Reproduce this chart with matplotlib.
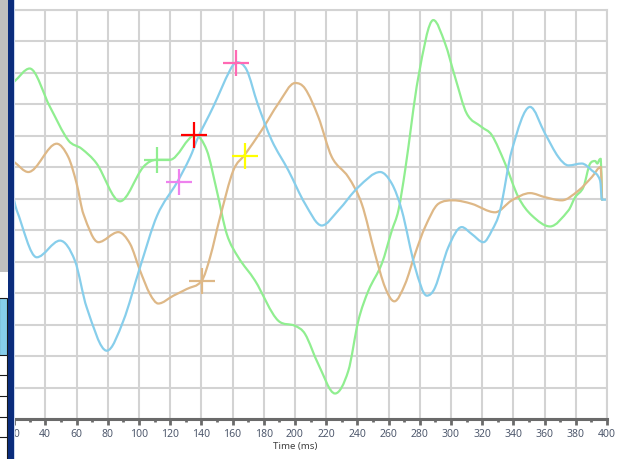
import numpy as np
import matplotlib
matplotlib.use("Agg")
import matplotlib.pyplot as plt
from matplotlib.path import Path
from matplotlib.patches import PathPatch, Rectangle

# signal traces (time in ms, amplitude in grid units)
green_t = [20, 30, 43.0, 54.7, 63.3, 72.9, 87.9, 102.8, 111.4, 119.9,
           136.0, 143.5, 149.9, 156.3, 163.7, 174.4, 189.4, 200.1, 206.5, 215.0,
           225.7, 234.2, 240.6, 247.1, 255.6, 262.1, 266.3, 270.6, 279.1, 288.7,
           296.2, 302.6, 310.1, 319.7, 326.2, 334.7, 343.2, 351.8, 363.5, 375.3,
           379.6, 384.9, 389.2, 392.4, 393.8, 395.1, 396.0, 396.8]
green_v = [10.72, 11.14, 9.92, 8.86, 8.59, 8.12, 6.92, 8.01, 8.24, 8.24,
           9.02, 8.54, 7.26, 5.88, 5.14, 4.40, 3.12, 2.96, 2.70, 1.74,
           0.81, 1.53, 3.12, 4.08, 4.93, 5.99, 6.63, 7.90, 10.87, 12.68,
           11.94, 10.87, 9.71, 9.28, 9.02, 8.12, 7.05, 6.47, 6.12, 6.63,
           7.05, 7.37, 8.12, 8.20, 8.12, 8.24, 8.27, 6.97]

blue_t = [20, 21.7, 34.5, 49.4, 59.0, 66.5, 79.4, 90.0, 100.7, 111.7,
          124.4, 132.8, 137.9, 147.5, 158.4, 162.7, 169.1, 176.0, 185.1, 195.8,
          206.5, 217.2, 227.8, 240.6, 254.6, 262.1, 268.5, 277.0, 284.5, 289.8,
          298.3, 306.9, 313.3, 320.8, 326.2, 331.5, 339.0, 350.7, 360.3, 368.8,
          375.3, 383.8, 390.3, 395.6, 396.8, 400]
blue_v = [6.95, 6.63, 5.14, 5.67, 5.03, 3.55, 2.17, 3.12, 4.82, 6.47,
          7.52, 8.32, 8.95, 9.91, 11.09, 11.34, 11.09, 10.03, 8.86, 7.90,
          6.84, 6.15, 6.63, 7.37, 7.85, 7.48, 6.63, 4.82, 3.92, 4.18,
          5.46, 6.10, 5.88, 5.62, 5.99, 6.63, 8.54, 9.92, 9.07, 8.33,
          8.06, 8.12, 7.90, 7.58, 6.97, 6.97]

tan_t = [20, 29.1, 47.3, 54.7, 60.1, 64.4, 74.0, 86.8, 94.3, 100.7,
         107.1, 112.4, 122.1, 130.6, 140.3, 145.6, 152.0, 160.5, 168.0, 178.7,
         189.4, 200.1, 206.5, 215.0, 223.6, 234.2, 242.8, 251.3, 257.8, 263.7,
         270.6, 277.0, 283.4, 291.9, 301.5, 313.3, 328.3, 339.0, 350.7, 360.3,
         371.0, 381.7, 390.3, 396.0, 396.8]
tan_v = [8.17, 7.85, 8.75, 8.33, 7.48, 6.52, 5.62, 5.94, 5.57, 4.72,
         3.97, 3.67, 3.92, 4.13, 4.40, 5.14, 6.41, 7.90, 8.41, 9.18,
         10.03, 10.68, 10.50, 9.60, 8.33, 7.69, 6.84, 5.25, 4.18, 3.74,
         4.29, 5.25, 6.10, 6.84, 6.95, 6.84, 6.57, 6.95, 7.18, 7.05,
         6.95, 7.26, 7.69, 8.01, 6.97]

# event cursors
mark_t = [111.4, 125.7, 135.5, 162.2, 168.0, 140.3]
mark_v = [8.24, 7.53, 9.04, 11.30, 8.35, 4.40]
mark_c = ["#90ee90", "#ee82ee", "#ff0000", "#ff69b4", "#ffff00", "#deb887"]

x_ticks = list(range(0, 401, 20))


def spline_path(x, y):
    # centred tangents, flattened at turning points and clamped so the
    # bezier segments do not overshoot
    x = np.asarray(x, float)
    y = np.asarray(y, float)
    h = np.diff(x)
    d = np.diff(y) / h
    m = np.zeros_like(y)
    m[0], m[-1] = d[0], d[-1]
    for k in range(1, len(x) - 1):
        if d[k - 1] * d[k] <= 0:
            m[k] = 0.0
        else:
            c = (y[k + 1] - y[k - 1]) / (x[k + 1] - x[k - 1])
            lim = 3 * min(abs(d[k - 1]), abs(d[k]))
            m[k] = np.sign(c) * min(abs(c), lim)
    verts = [(x[0], y[0])]
    codes = [Path.MOVETO]
    for k in range(len(x) - 1):
        verts += [(x[k] + h[k] / 3, y[k] + m[k] * h[k] / 3),
                  (x[k + 1] - h[k] / 3, y[k + 1] - m[k + 1] * h[k] / 3),
                  (x[k + 1], y[k + 1])]
        codes += [Path.CURVE4] * 3
    return Path(verts, codes)


W, H = 621, 459
fig = plt.figure(figsize=(W / 100, H / 100), dpi=100)
fig.patch.set_facecolor("white")

# the time axis starts at 0 ms, partly hidden under the side panel
x0_px, x1_px = -17.1, 607.0
ax = fig.add_axes([x0_px / W, 40 / H, (x1_px - x0_px) / W, 409 / H])
ax.set_xlim(0, 400)
ax.set_ylim(0, 13)

ax.set_xticks(x_ticks)
ax.set_xticks(range(10, 400, 20), minor=True)
ax.set_yticks(range(0, 14))
ax.grid(True, which="major", color="#d3d3d3", lw=1.5)
ax.set_axisbelow(True)

for s in ["top", "right"]:
    ax.spines[s].set_color("#d3d3d3")
    ax.spines[s].set_linewidth(1.5)
ax.spines["left"].set_visible(False)
ax.spines["bottom"].set_color("#6a6a6a")
ax.spines["bottom"].set_linewidth(2.2)

ax.tick_params(axis="x", which="major", length=4.5, width=2, color="#6a6a6a",
               labelsize=7.5, labelcolor="#505a6e", pad=3)
ax.tick_params(axis="x", which="minor", length=2.5, width=2, color="#6a6a6a")
ax.tick_params(axis="y", left=False, labelleft=False)
for lab in ax.get_xticklabels():
    lab.set_fontfamily("Noto Sans")
ax.set_xlabel("Time (ms)", fontsize=7, color="#404040", family="Noto Sans", labelpad=1)

for t, v, c in [(green_t, green_v, "#90ee90"),
                (tan_t, tan_v, "#deb887"),
                (blue_t, blue_v, "#87ceeb")]:
    ax.add_patch(PathPatch(spline_path(t, v), fill=False, edgecolor=c, lw=1.6,
                           capstyle="round", joinstyle="round"))

for t, v, c in zip(mark_t, mark_v, mark_c):
    ax.plot(t, v, marker="+", markersize=18.5, mew=1.6, color=c, ls="none")


def px_rect(x, y, w, h, **kw):
    # rectangle in image pixels measured from the top-left corner
    r = Rectangle((x / W, (H - y - h) / H), w / W, h / H,
                  transform=fig.transFigure, zorder=10, **kw)
    fig.add_artist(r)


# side panel on the left
px_rect(0, 0, 8, 272, facecolor="#bfbfbf", edgecolor="none")
px_rect(0, 272, 8, 187, facecolor="white", edgecolor="none")
px_rect(-1, 298, 8, 57, facecolor="#87ceeb", edgecolor="#1a1a1a", lw=0.8)
for yy in [375, 396, 417, 437]:
    px_rect(-1, yy, 8, 0.01, facecolor="none", edgecolor="#1a1a1a", lw=0.8)
px_rect(7, 355, 0.01, 104, facecolor="none", edgecolor="#1a1a1a", lw=0.8)
px_rect(8, 0, 6, H, facecolor="#0a2c7c", edgecolor="none")
px_rect(14, 0, 1, H, facecolor="#c9d6ee", edgecolor="none")

fig.savefig("out.png", dpi=100)
